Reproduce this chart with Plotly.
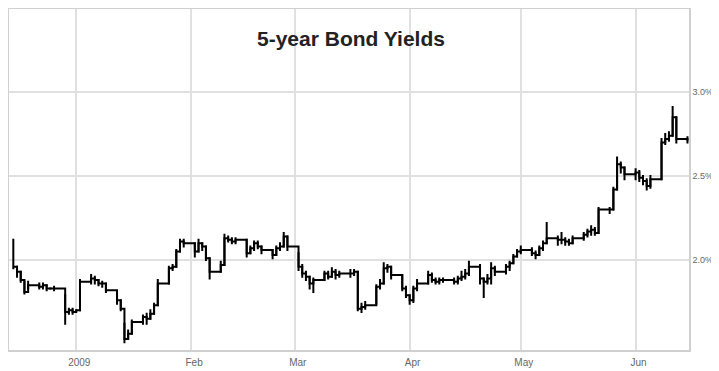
import plotly.graph_objects as go
import pandas as pd

# Trading days (weekdays) shown on the chart
dates = pd.bdate_range("2008-12-15", "2009-06-15")

# Yield closes in %, one row per week
closes = [
    1.96, 1.93, 1.88, 1.81, 1.85,
    1.84, 1.85, 1.83, 1.83, 1.83,
    1.69, 1.70, 1.69, 1.70, 1.87,
    1.89, 1.88, 1.86, 1.86, 1.82,
    1.76, 1.71, 1.53, 1.56, 1.63,
    1.66, 1.65, 1.68, 1.73, 1.86,
    1.95, 1.96, 2.05, 2.11, 2.10,
    2.05, 2.10, 2.08, 2.01, 1.93,
    1.97, 2.13, 2.12, 2.11, 2.12,
    2.04, 2.07, 2.10, 2.08, 2.06,
    2.03, 2.07, 2.08, 2.14, 2.08,
    1.96, 1.92, 1.90, 1.86, 1.88,
    1.92, 1.90, 1.93, 1.91, 1.92,
    1.92, 1.93, 1.71, 1.72, 1.73,
    1.84, 1.86, 1.95, 1.96, 1.91,
    1.83, 1.79, 1.76, 1.83, 1.86,
    1.91, 1.88, 1.87, 1.88, 1.88,
    1.87, 1.89, 1.90, 1.92, 1.96,
    1.89, 1.87, 1.89, 1.95, 1.93,
    1.96, 1.98, 2.02, 2.05, 2.06,
    2.04, 2.03, 2.07, 2.10, 2.13,
    2.12, 2.12, 2.11, 2.10, 2.13,
    2.15, 2.17, 2.18, 2.16, 2.30,
    2.30, 2.42, 2.57, 2.55, 2.51,
    2.52, 2.49, 2.47, 2.44, 2.48,
    2.70, 2.72, 2.74, 2.85, 2.72,
    2.71,
]
highs = [
    2.12, 1.96, 1.93, 1.87, 1.87,
    1.86, 1.86, 1.85, 1.83, 1.84,
    1.79, 1.71, 1.71, 1.70, 1.88,
    1.91, 1.90, 1.88, 1.87, 1.86,
    1.80, 1.76, 1.62, 1.58, 1.64,
    1.67, 1.68, 1.70, 1.74, 1.88,
    1.96, 1.97, 2.06, 2.12, 2.12,
    2.10, 2.12, 2.10, 2.08, 2.01,
    1.99, 2.15, 2.14, 2.13, 2.13,
    2.12, 2.08, 2.11, 2.11, 2.08,
    2.06, 2.08, 2.10, 2.16, 2.14,
    2.04, 1.97, 1.93, 1.90, 1.89,
    1.93, 1.93, 1.95, 1.94, 1.93,
    1.94, 1.94, 1.93, 1.74, 1.75,
    1.85, 1.88, 1.98, 1.97, 1.96,
    1.91, 1.84, 1.79, 1.84, 1.88,
    1.93, 1.92, 1.89, 1.89, 1.89,
    1.89, 1.90, 1.93, 1.94, 1.99,
    1.97, 1.89, 1.91, 1.98, 1.96,
    1.97, 1.99, 2.03, 2.06, 2.08,
    2.07, 2.05, 2.08, 2.11, 2.22,
    2.14, 2.16, 2.13, 2.12, 2.14,
    2.16, 2.18, 2.20, 2.19, 2.31,
    2.31, 2.43, 2.61, 2.58, 2.55,
    2.54, 2.53, 2.50, 2.48, 2.50,
    2.72, 2.75, 2.76, 2.91, 2.85,
    2.73,
]
lows = [
    1.95, 1.90, 1.87, 1.80, 1.83,
    1.83, 1.83, 1.82, 1.83, 1.82,
    1.62, 1.68, 1.68, 1.70, 1.70,
    1.86, 1.86, 1.85, 1.84, 1.81,
    1.74, 1.70, 1.51, 1.53, 1.56,
    1.62, 1.62, 1.65, 1.68, 1.73,
    1.86, 1.94, 1.96, 2.05, 2.08,
    2.02, 2.05, 2.06, 2.00, 1.89,
    1.93, 1.97, 2.11, 2.10, 2.10,
    2.02, 2.04, 2.06, 2.07, 2.04,
    2.01, 2.03, 2.06, 2.08, 2.06,
    1.94, 1.90, 1.88, 1.83, 1.81,
    1.88, 1.89, 1.90, 1.89, 1.90,
    1.90, 1.91, 1.70, 1.69, 1.71,
    1.74, 1.83, 1.86, 1.93, 1.89,
    1.82, 1.78, 1.74, 1.75, 1.82,
    1.86, 1.87, 1.86, 1.86, 1.87,
    1.86, 1.86, 1.88, 1.89, 1.91,
    1.86, 1.78, 1.86, 1.86, 1.91,
    1.92, 1.94, 1.98, 2.02, 2.04,
    2.03, 2.01, 2.03, 2.06, 2.10,
    2.09, 2.10, 2.09, 2.09, 2.10,
    2.12, 2.14, 2.15, 2.15, 2.16,
    2.28, 2.30, 2.42, 2.52, 2.48,
    2.48, 2.47, 2.45, 2.42, 2.43,
    2.48, 2.69, 2.71, 2.74, 2.70,
    2.70,
]

month_ticks = ["2009-01-01", "2009-02-01", "2009-03-01", "2009-04-01", "2009-05-01", "2009-06-01"]
month_labels = ["2009", "Feb", "Mar", "Apr", "May", "Jun"]
y_ticks = [2.0, 2.5, 3.0]
y_labels = ["2.0%", "2.5%", "3.0%"]
title_text = "5-year Bond Yields"

n = min(len(dates), len(closes), len(highs), len(lows))
x = list(dates[:n])
c = closes[:n]
up = [max(0.0, h - v) for h, v in zip(highs[:n], c)]
dn = [max(0.0, v - l) for l, v in zip(lows[:n], c)]

fig = go.Figure()
fig.add_trace(go.Scatter(
    x=x, y=c, mode="lines",
    line=dict(color="black", width=2, shape="hv"),
    error_y=dict(type="data", symmetric=False, array=up, arrayminus=dn,
                 color="black", thickness=2, width=1),
    hoverinfo="x+y",
))

# The page body adds an 8px offset, so the figure is sized to fit the rest of the window
fig.update_layout(
    width=711, height=363,
    margin=dict(l=1, r=30, t=1, b=21, autoexpand=False),
    paper_bgcolor="white", plot_bgcolor="white",
    showlegend=False,
    font=dict(family="Liberation Sans, Arial, sans-serif", color="#666666", size=10),
    annotations=[dict(
        text="<b>" + title_text + "</b>", xref="paper", yref="paper",
        x=0.503, y=0.913, xanchor="center", yanchor="middle", showarrow=False,
        font=dict(size=21, color="#222222", family="Liberation Sans, Arial, sans-serif"),
    )],
)
fig.update_xaxes(
    type="date", automargin=False,
    range=["2008-12-13 20:00", "2009-06-15 10:00"],
    tickvals=month_ticks, ticktext=month_labels,
    showgrid=True, gridcolor="#e0e0e0", gridwidth=1.5,
    showline=True, linecolor="#d0d0d0", linewidth=1.5, mirror=True,
    ticks="", ticklabelshift=3, ticklabelstandoff=2, zeroline=False,
)
fig.update_yaxes(
    automargin=False,
    range=[1.464, 3.494], side="right",
    tickvals=y_ticks, ticktext=y_labels, tickfont=dict(size=9),
    showgrid=True, gridcolor="#e0e0e0", gridwidth=1.5,
    showline=True, linecolor="#d0d0d0", linewidth=1.5, mirror=True,
    ticks="", ticklabelstandoff=0, zeroline=False,
)

fig.write_html("out.html")
